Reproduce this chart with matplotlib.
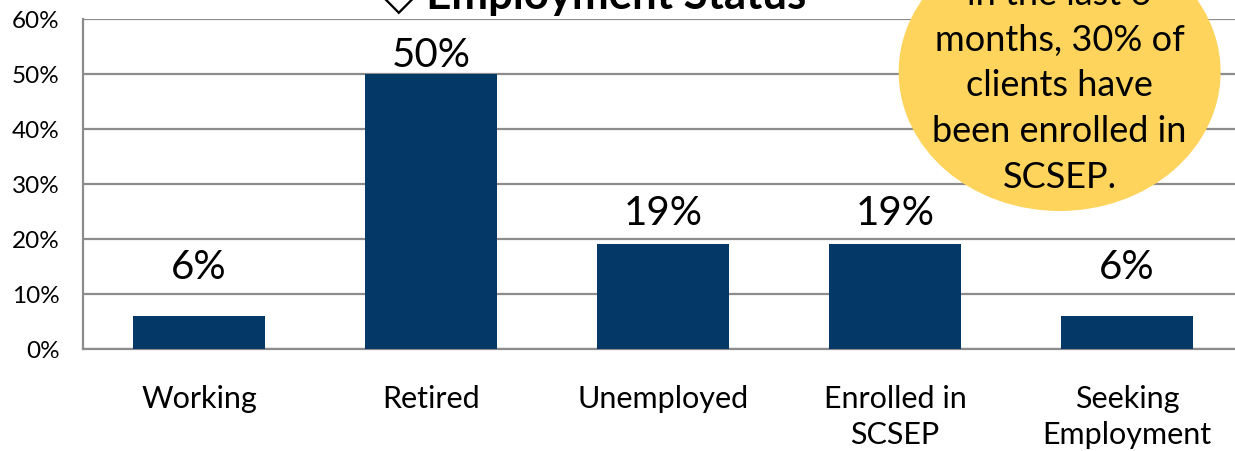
import matplotlib
matplotlib.use("Agg")
import matplotlib.pyplot as plt
from matplotlib.patches import Ellipse

plt.rcParams['font.family'] = ['Lato', 'DejaVu Sans']

# data
categories = ["Working", "Retired", "Unemployed", "Enrolled in\nSCSEP", "Seeking\nEmployment"]
shares = [6, 50, 19, 19, 6]
label_pad = [22, 1, 10, 10, 22]  # points above bar top
yticks = [0, 10, 20, 30, 40, 50, 60]
title = "\u25C7 Employment Status"
callout = "in the last 6\nmonths, 30% of\nclients have\nbeen enrolled in\nSCSEP."

bar_color = "#043867"
grid_color = "#8c8c8c"

fig = plt.figure(figsize=(12.35, 4.52), dpi=100)
ax = fig.add_axes([0.0672, 0.2257, 0.9393, 0.7301])

x = range(len(categories))
ax.bar(x, shares, width=0.573, color=bar_color, zorder=3)
ax.set_xlim(-0.5, len(categories) - 0.5)
ax.set_ylim(0, 60)
ax.set_yticks(yticks)
ax.set_yticklabels([f"{t}%" for t in yticks], fontsize=17.5)
ax.set_xticks(list(x))
ax.set_xticklabels(categories, fontsize=22, linespacing=1.35)
ax.tick_params(axis='y', length=0, pad=17)
ax.tick_params(axis='x', length=0, pad=25.5)
ax.yaxis.grid(True, color=grid_color, linewidth=1.6, zorder=0)
ax.set_axisbelow(True)
for s in ['top', 'right']:
    ax.spines[s].set_visible(False)
for s in ['left', 'bottom']:
    ax.spines[s].set_color(grid_color)
    ax.spines[s].set_linewidth(1.6)

for xi, v, p in zip(x, shares, label_pad):
    ax.annotate(f"{v}%", (xi, v), xytext=(0, p), textcoords="offset points",
                ha="center", va="bottom", fontsize=29)

fig.text(0.481, 1.0 - 9 / 452, title, ha="center", va="baseline",
         fontsize=31.5, fontweight="bold", family=['Lato', 'DejaVu Sans'])

ell = Ellipse((0.858, 1 - 73 / 452), 0.2607, 0.615, transform=fig.transFigure,
              facecolor="#fed45c", edgecolor="none", zorder=5)
fig.patches.append(ell)
fig.text(0.858, 1 - 86 / 452, callout, ha="center", va="center",
         fontsize=26, linespacing=1.47, zorder=6)

fig.savefig("out.png", dpi=100)
